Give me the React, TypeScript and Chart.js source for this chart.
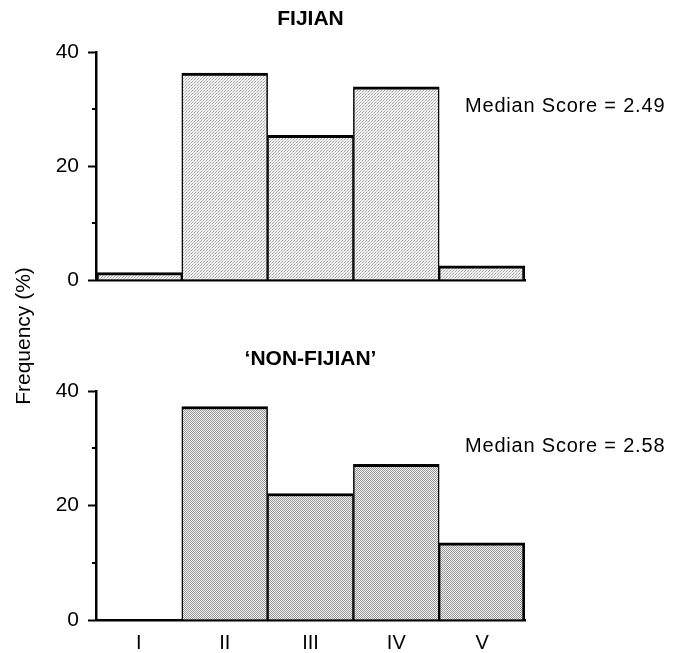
import React, { useEffect, useRef } from "react";
import { Chart, registerables } from "chart.js";

Chart.register(...registerables);

const categories = ["I", "II", "III", "IV", "V"];
const fijianValues = [1.3, 36.3, 25.4, 33.9, 2.5];
const nonFijianValues = [0, 37.3, 22.1, 27.2, 13.5];
const majorTicks = [0, 20, 40];
const minorTicks = [10, 30];
const fijianTitle = "FIJIAN";
const nonFijianTitle = "\u2018NON-FIJIAN\u2019";
const fijianMedian = "Median Score = 2.49";
const nonFijianMedian = "Median Score = 2.58";
const yAxisLabel = "Frequency (%)";

const FONT = "'Liberation Sans', Arial, Helvetica, sans-serif";

function makePattern(dark: boolean): CanvasPattern | string {
  const c = document.createElement("canvas");
  const ctx = c.getContext("2d");
  if (!ctx) return dark ? "#c4c4c4" : "#e2e2e2";
  if (dark) {
    c.width = 2;
    c.height = 2;
    ctx.fillStyle = "#f4f4f4";
    ctx.fillRect(0, 0, 2, 2);
    ctx.fillStyle = "#959595";
    ctx.fillRect(0, 0, 1, 1);
    ctx.fillRect(1, 1, 1, 1);
  } else {
    c.width = 3;
    c.height = 3;
    ctx.fillStyle = "#f0f0f0";
    ctx.fillRect(0, 0, 3, 3);
    ctx.fillStyle = "#a8a8a8";
    ctx.fillRect(0, 0, 1, 1);
    ctx.fillRect(2, 1, 1, 1);
    ctx.fillStyle = "#cfcfcf";
    ctx.fillRect(1, 2, 1, 1);
  }
  const p = ctx.createPattern(c, "repeat");
  return p || (dark ? "#c4c4c4" : "#e2e2e2");
}

const annotPlugin = {
  id: "annot",
  afterDraw(chart: any, _args: any, opts: any) {
    const { ctx, chartArea, scales } = chart;
    ctx.save();
    const y = scales.y;
    ctx.strokeStyle = "#000";
    ctx.lineWidth = 2;
    minorTicks.forEach((v) => {
      const py = Math.round(y.getPixelForValue(v));
      ctx.beginPath();
      ctx.moveTo(chartArea.left - 4, py);
      ctx.lineTo(chartArea.left, py);
      ctx.stroke();
    });
    ctx.fillStyle = "#000";
    if (opts && opts.title) {
      ctx.font = `bold 21px ${FONT}`;
      ctx.textAlign = "center";
      ctx.textBaseline = "middle";
      ctx.fillText(opts.title, (chartArea.left + chartArea.right) / 2, chartArea.top - opts.titleDy);
    }
    if (opts && opts.text) {
      ctx.font = `20px ${FONT}`;
      try {
        (ctx as any).letterSpacing = "0.8px";
      } catch (e) {}
      ctx.textAlign = "left";
      ctx.textBaseline = "middle";
      ctx.fillText(opts.text, chartArea.right - 60, chartArea.top + opts.dy);
    }
    ctx.restore();
  },
};

function makeConfig(
  values: number[],
  title: string,
  median: string,
  dark: boolean,
  showX: boolean,
  canvasH: number,
  plotTop: number,
  plotBottom: number,
  titleDy: number,
  medianDy: number
): any {
  return {
    type: "bar",
    data: {
      labels: categories,
      datasets: [
        {
          data: values,
          backgroundColor: makePattern(dark),
          borderColor: "#000",
          borderWidth: (c: any) => ({
            top: 3,
            left: c.dataIndex === 0 ? 3 : 1.5,
            right: c.dataIndex === categories.length - 1 ? 3 : 1.5,
            bottom: 0,
          }),
          borderSkipped: "start",
          categoryPercentage: 1,
          barPercentage: 1,
        },
      ],
    },
    options: {
      responsive: false,
      animation: false,
      layout: { padding: { left: 0, right: 151, top: plotTop, bottom: 0 } },
      plugins: {
        legend: { display: false },
        tooltip: { enabled: false },
        title: { display: false },
        annot: { text: median, dy: medianDy, title, titleDy },
      },
      scales: {
        x: {
          grid: { display: false },
          border: { display: true, color: "#000", width: 2.5 },
          ticks: {
            display: showX,
            color: "#000",
            font: { family: FONT, size: 20 },
            padding: 3,
            maxRotation: 0,
          },
          afterFit(scale: any) {
            scale.height = canvasH - plotBottom;
          },
        },
        y: {
          min: 0,
          max: 40,
          afterBuildTicks(scale: any) {
            scale.ticks = majorTicks.map((v) => ({ value: v }));
          },
          ticks: {
            color: "#000",
            font: { family: FONT, size: 21 },
            padding: 9,
          },
          grid: {
            display: true,
            drawOnChartArea: false,
            drawTicks: true,
            tickLength: 8,
            tickColor: "#000",
            tickWidth: 2,
          },
          border: { display: true, color: "#000", width: 2.5 },
          afterFit(scale: any) {
            scale.width = 96;
          },
        },
      },
    },
    plugins: [annotPlugin],
  };
}

export default function App() {
  const ref1 = useRef<HTMLCanvasElement>(null);
  const ref2 = useRef<HTMLCanvasElement>(null);

  useEffect(() => {
    const c1 = new Chart(
      ref1.current as HTMLCanvasElement,
      makeConfig(fijianValues, fijianTitle, fijianMedian, false, false, 330, 52, 280, 33, 54)
    );
    const c2 = new Chart(
      ref2.current as HTMLCanvasElement,
      makeConfig(nonFijianValues, nonFijianTitle, nonFijianMedian, true, true, 323, 61, 290, 32, 55)
    );
    return () => {
      c1.destroy();
      c2.destroy();
    };
  }, []);

  return (
    <div
      style={{
        position: "absolute",
        left: 0,
        top: 0,
        width: 676,
        height: 653,
        background: "#fff",
        overflow: "hidden",
      }}
    >
      <canvas
        ref={ref1}
        width={676}
        height={330}
        style={{ position: "absolute", left: 0, top: 0, display: "block" }}
      />
      <canvas
        ref={ref2}
        width={676}
        height={323}
        style={{ position: "absolute", left: 0, top: 330, display: "block" }}
      />
      <div
        style={{
          position: "absolute",
          left: 23 - 100,
          top: 336 - 13,
          width: 200,
          height: 26,
          lineHeight: "26px",
          textAlign: "center",
          transform: "rotate(-90deg)",
          fontFamily: FONT,
          fontSize: 21,
          color: "#000",
          whiteSpace: "nowrap",
        }}
      >
        {yAxisLabel}
      </div>
    </div>
  );
}
